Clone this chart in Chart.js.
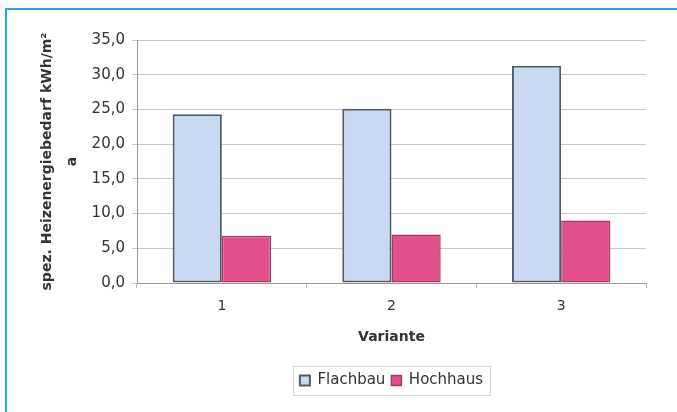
<!DOCTYPE html>
<html>
<head>
<meta charset="utf-8">
<script src="https://cdn.jsdelivr.net/npm/chart.js@4.4.1/dist/chart.umd.min.js"></script>
<style>
  html, body { margin: 0; padding: 0; background: #fff; }
  #wrap { position: relative; width: 677px; height: 412px; overflow: hidden; }
  #frame { position: absolute; left: 5px; top: 8px; width: 700px; height: 420px;
           border-top: 2px solid #22a8e2; border-left: 2px solid #22a8e2; }
  #chart { position: absolute; left: 0; top: 0; }
</style>
</head>
<body>
<div id="wrap">
  <div id="frame"></div>
  <canvas id="chart" width="677" height="412"></canvas>
</div>
<script>
// Heizenergiebedarf je Variante
const varianten = ['1', '2', '3'];
const flachbau = [24.3, 25.1, 31.3];
const hochhaus = [6.8, 7.0, 9.0];
const yTicks = [0, 5, 10, 15, 20, 25, 30, 35];

const fontFam = "'DejaVu Sans', Arial, sans-serif";

// centre the legend under the plot area, not the whole canvas
// (the legend plugin recomputes its hit boxes in afterUpdate)
const legendUnderPlot = {
  id: 'legendUnderPlot',
  afterLayout(chart) {
    const lg = chart.legend;
    const a = chart.chartArea;
    const shift = (a.left + a.right) / 2 - (lg.left + lg.right) / 2;
    lg.left += shift;
    lg.right += shift;
  }
};

// light box round the legend
const legendBox = {
  id: 'legendBox',
  afterDraw(chart) {
    const lg = chart.legend;
    if (!lg || !lg.legendHitBoxes.length) return;
    const hb = lg.legendHitBoxes;
    const last = hb[hb.length - 1];
    const x0 = Math.round(hb[0].left - 7);
    const x1 = Math.round(last.left + last.width + 7);
    const y0 = Math.round(hb[0].top - 7);
    const y1 = Math.round(hb[0].top + hb[0].height + 7);
    const c = chart.ctx;
    c.save();
    c.strokeStyle = '#d6d6d6';
    c.lineWidth = 1;
    c.strokeRect(x0 + 0.5, y0 + 0.5, x1 - x0, y1 - y0);
    c.restore();
  }
};

const ctx = document.getElementById('chart').getContext('2d');
new Chart(ctx, {
  type: 'bar',
  data: {
    labels: varianten,
    datasets: [{
      label: 'Flachbau',
      data: flachbau,
      backgroundColor: '#c9d9f1',
      borderColor: '#555b66',
      borderWidth: 2,
      borderSkipped: false
    }, {
      label: 'Hochhaus',
      data: hochhaus,
      backgroundColor: '#e1508b',
      borderColor: '#a8376a',
      borderWidth: 1.5,
      borderSkipped: false
    }]
  },
  options: {
    responsive: false,
    animation: false,
    layout: { padding: { left: 0, right: 31, top: 40, bottom: 14 } },
    datasets: { bar: { barPercentage: 1, categoryPercentage: 0.58 } },
    plugins: {
      tooltip: { enabled: false },
      legend: {
        position: 'bottom',
        labels: {
          font: { family: fontFam, size: 15 },
          color: '#333',
          boxWidth: 10,
          boxHeight: 10,
          padding: 6
        }
      }
    },
    scales: {
      x: {
        grid: { display: true, drawOnChartArea: false, drawTicks: true, tickLength: 5, color: '#b8b8b8', offset: true },
        border: { color: '#9a9a9a', width: 1 },
        ticks: { font: { family: fontFam, size: 14 }, color: '#333', padding: 10 },
        title: {
          display: true,
          text: 'Variante',
          font: { family: fontFam, size: 14, weight: 'bold' },
          color: '#333',
          padding: { top: 0, bottom: 21 }
        },
        afterFit(scale) { scale.height = 84; }
      },
      y: {
        min: 0,
        max: 35,
        afterBuildTicks(scale) { scale.ticks = yTicks.map(v => ({ value: v })); },
        grid: { color: '#c8c8c8', tickLength: 5 },
        border: { color: '#9a9a9a', width: 1 },
        ticks: {
          font: { family: fontFam, size: 15 },
          color: '#333',
          padding: 7,
          callback: v => v.toFixed(1).replace('.', ',')
        },
        title: {
          display: true,
          text: ['spez. Heizenergiebedarf kWh/m²', 'a'],
          font: { family: fontFam, size: 14, weight: 'bold', lineHeight: 1.8 },
          color: '#333',
          padding: { top: 35, bottom: 0 }
        },
        afterFit(scale) { scale.width = 137; }
      }
    }
  },
  plugins: [legendUnderPlot, legendBox]
});
</script>
</body>
</html>
